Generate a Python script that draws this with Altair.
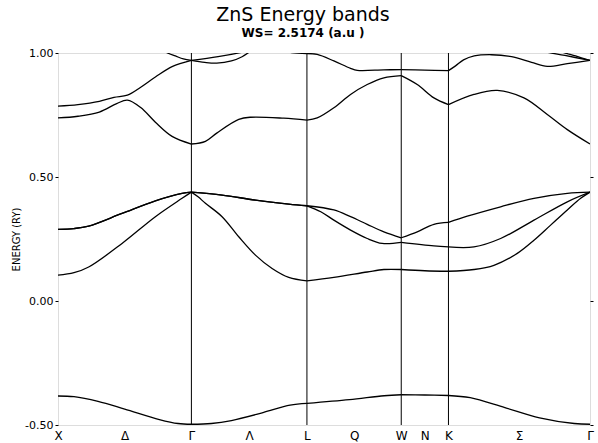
import altair as alt
import pandas as pd

# High-symmetry points along the path (k in units of 2*pi/a)
sym_names = ["X", "Γ", "L", "W", "K", "Γ"]
sym_k = [0.0, 1.0, 1.866, 2.573, 2.927, 3.988]
# Line labels between them
line_names = ["Δ", "Λ", "Q", "N", "Σ"]
line_k = [0.5, 1.433, 2.22, 2.75, 3.457]

y_ticks = [-0.5, 0.0, 0.5, 1.0]

# Bands: (k, E in Ry)
vb1 = [(0.0, -0.383), (0.12, -0.386), (0.30, -0.405), (0.50, -0.436), (0.76, -0.478), (0.9, -0.494), (1.0, -0.497),
       (1.15, -0.494), (1.30, -0.482), (1.537, -0.450), (1.74, -0.420), (1.866, -0.413),
       (2.185, -0.398), (2.445, -0.382), (2.573, -0.378),
       (2.75, -0.379), (2.927, -0.381),
       (3.09, -0.390), (3.35, -0.430), (3.61, -0.471), (3.87, -0.494), (3.988, -0.497)]

vb2 = [(0.0, 0.104), (0.12, 0.114), (0.23, 0.137), (0.48, 0.232), (0.73, 0.340), (0.93, 0.414), (1.0, 0.439),
       (1.05, 0.420), (1.105, 0.394), (1.23, 0.340), (1.355, 0.259), (1.48, 0.185),
       (1.605, 0.131), (1.73, 0.095), (1.866, 0.081),
       (2.068, 0.095), (2.318, 0.117), (2.443, 0.127), (2.573, 0.127),
       (2.75, 0.122), (2.927, 0.120),
       (3.118, 0.127), (3.268, 0.144), (3.443, 0.192), (3.568, 0.245), (3.693, 0.306),
       (3.818, 0.367), (3.918, 0.414), (3.988, 0.439)]

vb3 = [(0.0, 0.289), (0.12, 0.292), (0.23, 0.302), (0.48, 0.353), (0.73, 0.404), (0.93, 0.434), (1.0, 0.439),
       (1.23, 0.427), (1.48, 0.407), (1.73, 0.391), (1.866, 0.384),
       (1.97, 0.360), (2.068, 0.326), (2.193, 0.286), (2.318, 0.252), (2.43, 0.232), (2.573, 0.236),
       (2.818, 0.222), (2.927, 0.218),
       (3.118, 0.218), (3.318, 0.252), (3.568, 0.326), (3.818, 0.400), (3.988, 0.439)]

vb4 = [(0.0, 0.289), (0.12, 0.292), (0.23, 0.302), (0.48, 0.353), (0.73, 0.404), (0.93, 0.434), (1.0, 0.439),
       (1.23, 0.427), (1.48, 0.407), (1.73, 0.391), (1.866, 0.384),
       (2.068, 0.367), (2.193, 0.340), (2.318, 0.309), (2.443, 0.279), (2.573, 0.255),
       (2.693, 0.279), (2.818, 0.309), (2.927, 0.317),
       (3.068, 0.342), (3.318, 0.380), (3.568, 0.414), (3.818, 0.434), (3.988, 0.439)]

cb1 = [(0.0, 0.738), (0.15, 0.745), (0.31, 0.762), (0.44, 0.796), (0.52, 0.810), (0.62, 0.780),
       (0.73, 0.721), (0.855, 0.664), (1.0, 0.633),
       (1.105, 0.644), (1.19, 0.677), (1.355, 0.732), (1.443, 0.741), (1.692, 0.737), (1.866, 0.729),
       (1.943, 0.738), (2.068, 0.779), (2.193, 0.833), (2.318, 0.873), (2.443, 0.900), (2.573, 0.909),
       (2.693, 0.873), (2.818, 0.819), (2.927, 0.792),
       (3.118, 0.833), (3.293, 0.849), (3.493, 0.819), (3.668, 0.752), (3.818, 0.691), (3.988, 0.633)]

cb2 = [(0.0, 0.786), (0.15, 0.792), (0.31, 0.805), (0.42, 0.821), (0.52, 0.830), (0.62, 0.862),
       (0.73, 0.903), (0.855, 0.945), (1.0, 0.970),
       (1.2, 0.985), (1.42, 1.008), (1.5, 1.02)]

cb3 = [(0.72, 1.04), (0.78, 1.012), (0.83, 0.998), (0.88, 0.988), (0.94, 0.976), (1.0, 0.970),
       (1.1, 0.962), (1.19, 0.959), (1.3, 0.968), (1.38, 0.985), (1.45, 1.010), (1.5, 1.03)]

cb4 = [(1.55, 1.02), (1.65, 1.008), (1.75, 1.002), (1.866, 0.998),
       (1.943, 0.994), (2.068, 0.968), (2.193, 0.938), (2.243, 0.930), (2.443, 0.932), (2.573, 0.933),
       (2.75, 0.931), (2.927, 0.929),
       (2.98, 0.948), (3.04, 0.972), (3.12, 0.988), (3.25, 0.993), (3.4, 0.985), (3.55, 0.962),
       (3.668, 0.946), (3.818, 0.957), (3.988, 0.970)]

cb5 = [(3.56, 1.02), (3.618, 1.009), (3.80, 0.990), (3.988, 0.970)]
cb6 = [(3.72, 1.02), (3.768, 1.006), (3.88, 0.988), (3.988, 0.970)]

bands = {"vb1": vb1, "vb2": vb2, "vb3": vb3, "vb4": vb4,
         "cb1": cb1, "cb2": cb2, "cb3": cb3, "cb4": cb4, "cb5": cb5, "cb6": cb6}

# Split each band into path segments so kinks at symmetry points are kept
rows = []
for name, pts in bands.items():
    for seg in range(len(sym_k) - 1):
        lo, hi = sym_k[seg], sym_k[seg + 1]
        for k, e in pts:
            if lo - 1e-9 <= k <= hi + 1e-9:
                rows.append({"curve": f"{name}_{seg}", "k": k, "E": e})
df = pd.DataFrame(rows)

# x axis labels: symmetry points + line labels
lab_k = sorted(list(zip(sym_k, sym_names)) + list(zip(line_k, line_names)))
vals = [v for v, _ in lab_k]
names = [n for _, n in lab_k]
expr = f"'{names[-1]}'"
for i in range(len(vals) - 2, -1, -1):
    thr = (vals[i] + vals[i + 1]) / 2
    expr = f"datum.value < {thr:.4f} ? '{names[i]}' : ({expr})"

FONT = "DejaVu Sans"

xscale = alt.Scale(domain=[sym_k[0], sym_k[-1]], nice=False, zero=False)
yscale = alt.Scale(domain=[-0.5, 1.0], nice=False, zero=False)

lines = alt.Chart(df).mark_line(
    interpolate="catmull-rom", clip=True, color="black", strokeWidth=1.3
).encode(
    x=alt.X("k:Q", scale=xscale,
            axis=alt.Axis(values=vals, labelExpr=expr, title=None, ticks=False, domain=False,
                          grid=False, labelFont=FONT, labelFontSize=12, labelColor="black",
                          labelPadding=5, labelFlush=False)),
    y=alt.Y("E:Q", scale=yscale,
            axis=alt.Axis(values=y_ticks, labelExpr="replace(format(datum.value, '.2f'), '−', '-')",
                          title="ENERGY (RY)", titleFont=FONT, titleFontSize=10,
                          titleFontWeight="normal", titleColor="black", titleX=-37,
                          labelFont=FONT, labelFontSize=11, labelColor="black",
                          tickSize=3, tickColor="black", domain=False, grid=False,
                          labelPadding=2)),
    detail="curve:N",
    order="k:Q",
)

rdf = pd.DataFrame({"k": sym_k[1:-1]})
rules = alt.Chart(rdf).mark_rule(color="black", strokeWidth=1).encode(
    x=alt.X("k:Q", scale=xscale)
)

tdf = pd.DataFrame({"E": y_ticks})
right = alt.Chart(tdf).mark_point(opacity=0).encode(
    y=alt.Y("E:Q", scale=yscale,
            axis=alt.Axis(orient="right", values=y_ticks, labels=False, title=None,
                          tickSize=3, tickColor="black", domain=False, grid=False))
)

chart = alt.layer(rules, lines, right).resolve_axis(y="independent").properties(
    width=532, height=372,
    padding={"left": 58, "top": 53, "right": 8, "bottom": 18},
    autosize=alt.AutoSizeParams(type="none"),
    title=alt.TitleParams("ZnS Energy bands", subtitle="WS= 2.5174  (a.u )",
                          anchor="middle", font=FONT, fontSize=19, fontWeight="normal",
                          color="black", subtitleFont=FONT, subtitleFontSize=12,
                          subtitleFontWeight="bold", subtitleColor="black",
                          offset=8, subtitlePadding=3, dx=-21),
).configure_view(stroke="black", strokeWidth=1.2).configure(background="white")

chart.save("out.html", embed_options={"renderer": "svg", "actions": False})
